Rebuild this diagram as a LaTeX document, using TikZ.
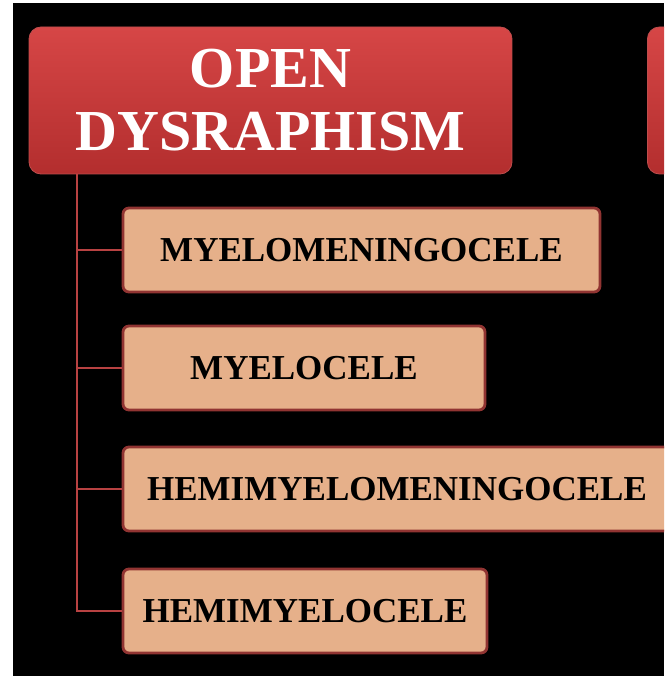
\documentclass[tikz,border=0pt]{standalone}
\usepackage{fontspec}
\setmainfont{Liberation Serif}
\usepackage{xcolor}
\usepackage{tikz}

\definecolor{titletop}{HTML}{D64646}
\definecolor{titlebot}{HTML}{B32E2E}
\definecolor{peach}{HTML}{E6B08A}
\definecolor{boxrim}{HTML}{913432}
\definecolor{trunkred}{HTML}{B84242}

\tikzset{
	titlebox/.style={rounded corners=12pt, top color=titletop, bottom color=titlebot,
		draw=titlebot!85!white, line width=0.8pt, minimum width=483pt, minimum height=147pt,
		text=white, align=center, font=\bfseries\fontsize{58}{63}\selectfont},
	typebox/.style={rounded corners=6pt, fill=peach, draw=boxrim, line width=2.8pt,
		minimum height=84pt, text=black, font=\bfseries\fontsize{35}{40}\selectfont},
	branch/.style={trunkred, line width=2.8pt}
}

\begin{document}
\begin{tikzpicture}[x=1pt,y=-1pt]
				\path[use as bounding box, clip] (0,0) rectangle (664,676);
				\fill[white] (0,0) rectangle (664,676);
				\fill[black] (13,3) rectangle (664,676);
				
				\node[titlebox] (open) at (270.5,100.5) {OPEN\\DYSRAPHISM};
				\node[titlebox, anchor=west] (closed) at (647,100.5) {};
				
				\node[typebox, minimum width=477pt] (mmc) at (361.5,250) {MYELOMENINGOCELE};
				\node[typebox, minimum width=362pt] (mc) at (304,368) {MYELOCELE};
				\node[typebox, minimum width=548pt] (hmmc) at (397,489) {HEMIMYELOMENINGOCELE};
				\node[typebox, minimum width=364pt] (hmc) at (305,611) {HEMIMYELOCELE};
				
				\coordinate (trunk) at (77,174);
				\draw[branch] (trunk) |- (hmc.west);
				\foreach \n in {mmc,mc,hmmc}
					\draw[branch] (trunk |- \n.west) -- (\n.west);
			\end{tikzpicture}
\end{document}
